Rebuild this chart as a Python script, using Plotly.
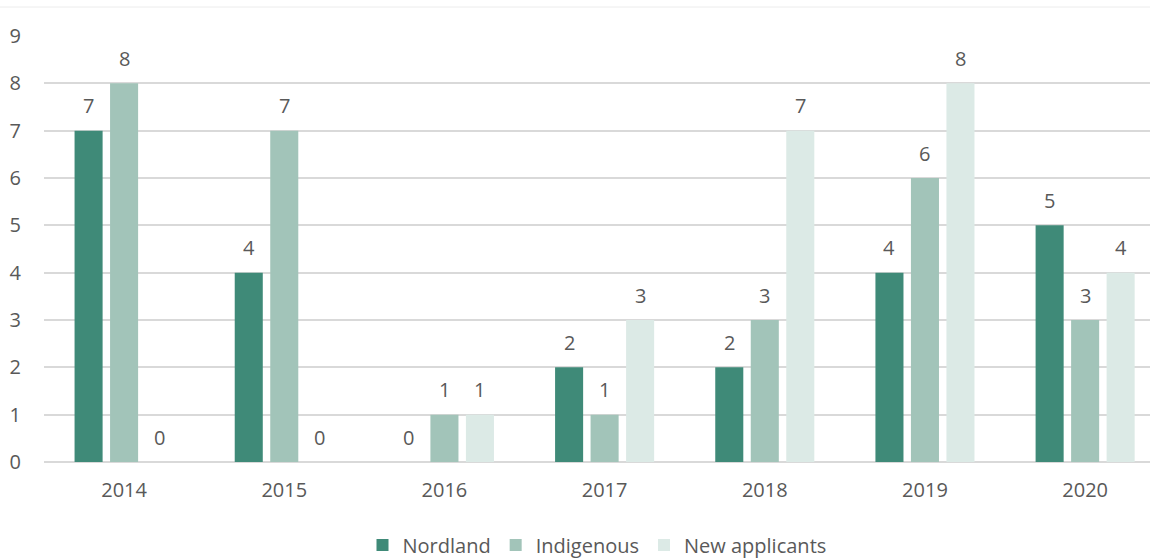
import plotly.graph_objects as go

years = ["2014", "2015", "2016", "2017", "2018", "2019", "2020"]
nordland = [7, 4, 0, 2, 2, 4, 5]
indigenous = [8, 7, 1, 1, 3, 6, 3]
new_applicants = [0, 0, 1, 3, 7, 8, 4]

series_names = ["Nordland", "Indigenous", "New applicants"]
series_values = [nordland, indigenous, new_applicants]
series_colors = ["#3f8a78", "#a2c4b9", "#dceae6"]

TEXT_COLOR = "#595959"
FONT = "Open Sans, Noto Sans, sans-serif"

W, H = 1150, 558
M_L, M_R, M_T, M_B = 44, 0, 36, 96
plot_w = W - M_L - M_R

# category spacing in pixels (axis range spans 6.905 categories)
x_range = [-0.5, 6.405]
cat_px = plot_w / (x_range[1] - x_range[0])
bargap = 0.335
bargroupgap = 0.21
slot_px = cat_px * (1 - bargap) / len(series_names)

fig = go.Figure()
for name, vals, color in zip(series_names, series_values, series_colors):
    fig.add_trace(go.Bar(
        x=years, y=vals, name=name,
        marker=dict(color=color, line=dict(width=0)),
        hoverinfo="x+y+name",
    ))

# value labels above each bar (category axis: position by category index)
annotations = []
for k, vals in enumerate(series_values):
    for i, v in enumerate(vals):
        annotations.append(dict(
            x=i, y=v, xref="x", yref="y",
            text=str(v), showarrow=False,
            xshift=(k - 1) * slot_px, yshift=25,
            yanchor="middle", xanchor="center",
            font=dict(family=FONT, size=20, color=TEXT_COLOR),
        ))

fig.update_layout(
    width=W, height=H,
    margin=dict(l=M_L, r=M_R, t=M_T, b=M_B, autoexpand=False),
    paper_bgcolor="white", plot_bgcolor="white",
    barmode="group", bargap=bargap, bargroupgap=bargroupgap,
    font=dict(family=FONT, size=20, color=TEXT_COLOR),
    showlegend=True,
    legend=dict(
        orientation="h", x=0.5, xanchor="center",
        y=-0.195, yanchor="middle",
        font=dict(family=FONT, size=20, color=TEXT_COLOR),
        itemwidth=30, traceorder="normal",
    ),
    annotations=annotations,
    shapes=[dict(
        type="line", xref="paper", yref="paper",
        x0=-M_L / plot_w, x1=1, y0=1 + 29 / 426, y1=1 + 29 / 426,
        line=dict(color="#ececec", width=1),
    )],
    xaxis=dict(
        type="category", range=x_range,
        showgrid=False, showline=False, zeroline=False,
        ticks="", ticklabelstandoff=14,
        tickfont=dict(family=FONT, size=20, color=TEXT_COLOR),
    ),
    yaxis=dict(
        range=[0, 9], dtick=1, tick0=0,
        showgrid=True, gridcolor="#d9d9d9", gridwidth=1.5,
        zeroline=True, zerolinecolor="#d9d9d9", zerolinewidth=1.5,
        showline=False, ticks="", ticklabelstandoff=22,
        tickfont=dict(family=FONT, size=20, color=TEXT_COLOR),
    ),
)

fig.write_html("out.html")
